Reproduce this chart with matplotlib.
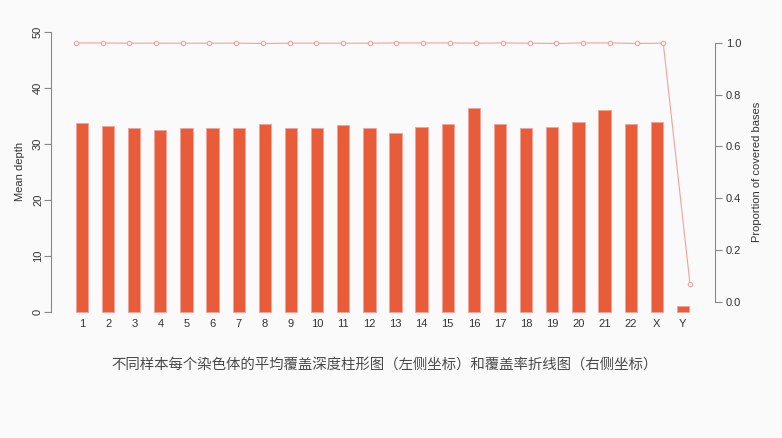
import matplotlib
matplotlib.use('Agg')
import matplotlib.pyplot as plt

plt.rcParams['font.family'] = ['Liberation Sans', 'Noto Sans CJK SC', 'DejaVu Sans']

chroms = [str(i) for i in range(1, 23)] + ['X', 'Y']
depth = [33.8, 33.1, 32.8, 32.4, 32.9, 32.8, 32.8, 33.45, 32.8, 32.9, 33.3, 32.8,
         32.0, 33.0, 33.6, 36.4, 33.45, 32.8, 33.0, 33.9, 36.1, 33.6, 33.9, 1.07]
coverage = [1.0, 1.0, 0.999, 0.999, 0.999, 0.999, 0.999, 0.998, 0.999, 0.999, 0.999, 0.999,
            1.0, 1.0, 1.0, 0.999, 1.0, 0.999, 0.998, 1.0, 1.0, 0.998, 0.999, 0.07]
caption = '不同样本每个染色体的平均覆盖深度柱形图（左侧坐标）和覆盖率折线图（右侧坐标）'

bg = '#fafafa'
bar_col = '#e85c3a'
line_col = '#f4a09c'
axis_col = '#888888'
text_col = '#333333'

fig = plt.figure(figsize=(7.82, 4.38), dpi=100, facecolor=bg)
pos = [0.0657, 0.2628, 0.848, 0.690]

# bar chart (left axis)
ax = fig.add_axes(pos)
ax.set_facecolor('none')
x = list(range(len(chroms)))
ax.bar(x, depth, width=0.47, color=bar_col, edgecolor='#f2a39a', linewidth=0.6)
ax.set_xlim(-1.171, 24.21)
ax.set_ylim(-2, 52)
ax.set_xticks(x)
ax.set_xticklabels(chroms, fontsize=8, color=text_col)
ax.tick_params(axis='x', length=0, pad=-3)
ax.set_yticks([0, 10, 20, 30, 40, 50])
ax.tick_params(axis='y', length=5, color=axis_col, labelsize=8, labelcolor=text_col, pad=1)
for lab in ax.get_yticklabels():
    lab.set_rotation(90)
    lab.set_va('center')
ax.set_ylabel('Mean depth', fontsize=8, color=text_col, labelpad=6)
for s in ['top', 'right', 'bottom']:
    ax.spines[s].set_visible(False)
ax.spines['left'].set_bounds(0, 50)
ax.spines['left'].set_color(axis_col)
ax.spines['left'].set_linewidth(0.8)

# coverage line (right axis), overlaid like par(new=TRUE)
ax2 = fig.add_axes(pos)
ax2.set_facecolor('none')
xl = list(range(1, len(chroms) + 1))
ax2.plot(xl, coverage, color=line_col, linewidth=0.8, marker='o', markersize=3.2,
         markerfacecolor=bg, markeredgecolor=line_col, markeredgewidth=0.8)
ax2.set_xlim(0.08, 24.92)
ax2.set_ylim(-0.082, 1.086)
ax2.xaxis.set_visible(False)
ax2.yaxis.tick_right()
ax2.yaxis.set_label_position('right')
ax2.set_yticks([0, 0.2, 0.4, 0.6, 0.8, 1.0])
ax2.set_yticklabels(['0.0', '0.2', '0.4', '0.6', '0.8', '1.0'])
ax2.tick_params(axis='y', length=5, color=axis_col, labelsize=8, labelcolor=text_col, pad=3)
ax2.set_ylabel('Proportion of covered bases', fontsize=8, color=text_col, labelpad=8)
for s in ['top', 'left', 'bottom']:
    ax2.spines[s].set_visible(False)
ax2.spines['right'].set_bounds(0, 1)
ax2.spines['right'].set_color(axis_col)
ax2.spines['right'].set_linewidth(0.8)

fig.text(0.492, 0.166, caption, ha='center', va='center', fontsize=10.4,
         color='#4a4a4a', family=['Noto Sans CJK TC', 'DejaVu Sans'])

fig.savefig('out.png', dpi=100, facecolor=bg)
